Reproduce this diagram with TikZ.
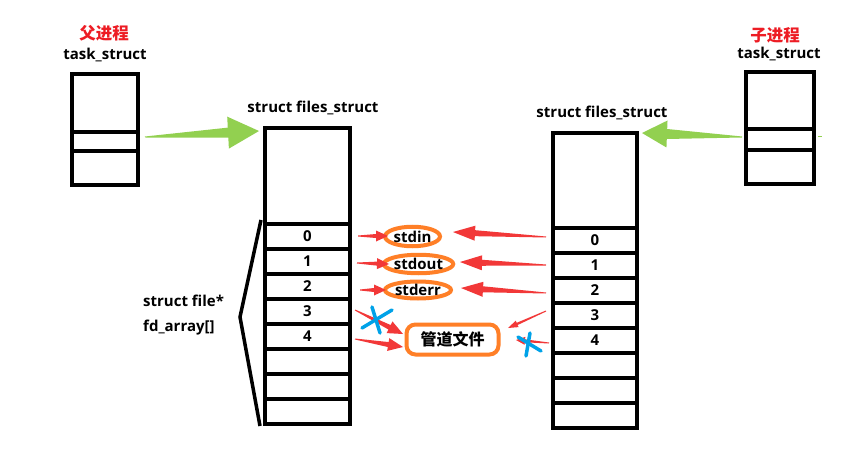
\documentclass[tikz,border=0pt]{standalone}
\usepackage{fontspec}
\setmainfont{Open Sans}
\newfontfamily\cjk{Noto Sans CJK SC}
\usetikzlibrary{calc,shapes.geometric}
\definecolor{agreen}{RGB}{146,208,80}
\definecolor{ared}{RGB}{242,56,56}
\definecolor{aorange}{RGB}{255,127,39}
\definecolor{ablue}{RGB}{0,162,232}
\definecolor{tred}{RGB}{237,28,36}
% #1 tail, #2 tip, #3 head length, #4 head half width, #5 shaft half width, #6 colour
\newcommand{\taparrow}[6]{%
  \path ($(#2)!#3!(#1)$) coordinate (tmpC);
  \fill[#6] ($(#1)!0.5pt!90:(#2)$) -- ($(tmpC)!#5!90:(#2)$) -- ($(tmpC)!#4!90:(#2)$) -- (#2)
    -- ($(tmpC)!#4!-90:(#2)$) -- ($(tmpC)!#5!-90:(#2)$) -- ($(#1)!0.5pt!-90:(#2)$) -- cycle;
}
\tikzset{
  box/.style={draw=black, line width=4pt, fill=white, inner sep=0pt, font=\bfseries\fontsize{15}{17}\selectfont},
  lcell/.style={box, minimum width=85pt, minimum height=25pt},
  rcell/.style={box, minimum width=84pt, minimum height=25pt},
  lbl/.style={font=\bfseries\fontsize{15}{17}\selectfont, inner sep=0pt},
  red lbl/.style={font=\cjk\bfseries\fontsize{16.5}{18}\selectfont, text=tred, inner sep=0pt},
  ell/.style={draw=aorange, line width=4pt, ellipse, inner sep=0pt, font=\bfseries\fontsize{15}{17}\selectfont},
  cross/.style={draw=ablue, line width=3.5pt, line cap=round}
}
\begin{document}
\begin{tikzpicture}[x=1pt,y=-1pt]
\useasboundingbox[fill=white] (0,0) rectangle (850,449);

% green arrows (drawn first, boxes cover them)
\coordinate (g1t) at (145,137);
\coordinate (g1h) at (259,131);
\taparrow{g1t}{g1h}{31pt}{16pt}{5pt}{agreen}
\coordinate (g2t) at (742,137);
\coordinate (g2h) at (642,133);
\taparrow{g2t}{g2h}{25pt}{13.5pt}{5pt}{agreen}
\fill[agreen] (818,136.3) rectangle (822,137.3);

% left task_struct
\node[box, minimum width=66pt, minimum height=58pt] (lt1) at (105,103) {};
\node[box, minimum width=66pt, minimum height=19pt] (lt2) at (105,141.5) {};
\node[box, minimum width=66pt, minimum height=34pt] (lt3) at (105,168) {};
\node[red lbl] (lpar) at (104,33) {父进程};
\node[lbl] (ltn) at (105,55) {task\_struct};

% right task_struct
\node[box, minimum width=68pt, minimum height=57pt] (rt1) at (780,100.5) {};
\node[box, minimum width=68pt, minimum height=21pt] (rt2) at (780,139.5) {};
\node[box, minimum width=68pt, minimum height=34pt] (rt3) at (780,167) {};
\node[red lbl] (rchild) at (775,35) {子进程};
\node[lbl] (rtn) at (779,54) {task\_struct};

% left files_struct
\node[lbl] (lfn) at (313,108) {struct files\_struct};
\node[box, minimum width=85pt, minimum height=96pt] (lf) at (307.5,176) {};
\foreach \i/\t in {0/0,1/1,2/2,3/3,4/4,5/,6/,7/}
  \node[lcell] (lf\i) at (307.5,236.5+25*\i) {\t};

% right files_struct
\node[lbl] (rfn) at (602,113) {struct files\_struct};
\node[box, minimum width=84pt, minimum height=95pt] (rf) at (595,180.5) {};
\foreach \i/\t in {0/0,1/1,2/2,3/3,4/4,5/,6/,7/}
  \node[rcell] (rf\i) at (595,240.5+25*\i) {\t};

% bracket and fd_array label
\coordinate (bmid) at (240,317);
\draw[line width=3.5pt] ([xshift=-2pt,yshift=2pt]lf0.north west) -- (bmid) -- ([xshift=-3pt]lf7.south west);
\node[lbl, anchor=west] (sfile) at (143,301) {struct file*};
\node[lbl, anchor=west] (fdarr) at (143,328) {fd\_array[]};

% std streams
\node[ell, minimum width=55pt, minimum height=19.5pt] (stdin) at (412.5,236.5) {stdin};
\node[ell, minimum width=59pt, minimum height=18.5pt] (stdout) at (418.5,264) {stdout};
\node[ell, minimum width=66pt, minimum height=17pt] (stderr) at (418,290) {stderr};
\node[draw=aorange, line width=4pt, rounded corners=9pt, minimum width=92pt, minimum height=30pt,
      inner sep=0pt, fill=white, font=\cjk\bfseries\fontsize{16}{18}\selectfont] (pipe) at (452.5,339.5) {管道文件};

% red arrows, left side
\coordinate (a0t) at (358,236); \coordinate (a0h) at (388,236);
\taparrow{a0t}{a0h}{12pt}{5.5pt}{2pt}{ared}
\coordinate (a1t) at (357,263); \coordinate (a1h) at (389,264);
\taparrow{a1t}{a1h}{12pt}{5.5pt}{2pt}{ared}
\coordinate (a2t) at (360,290); \coordinate (a2h) at (386,290);
\taparrow{a2t}{a2h}{12pt}{5.5pt}{2pt}{ared}
\coordinate (a3t) at (355,310); \coordinate (a3h) at (403,334);
\taparrow{a3t}{a3h}{15pt}{6.5pt}{2.5pt}{ared}
\coordinate (a4t) at (355,339); \coordinate (a4h) at (403,347);
\taparrow{a4t}{a4h}{15pt}{6.5pt}{2.5pt}{ared}

% red arrows, right side
\coordinate (b0t) at (546,237); \coordinate (b0h) at (453,232);
\taparrow{b0t}{b0h}{22pt}{7.5pt}{3pt}{ared}
\coordinate (b1t) at (546,265); \coordinate (b1h) at (460,262);
\taparrow{b1t}{b1h}{22pt}{7.5pt}{3pt}{ared}
\coordinate (b2t) at (546,293); \coordinate (b2h) at (461,288);
\taparrow{b2t}{b2h}{22pt}{7.5pt}{3pt}{ared}
\coordinate (b3t) at (546,311); \coordinate (b3h) at (508,328);
\taparrow{b3t}{b3h}{10pt}{3.5pt}{1.2pt}{ared}
\coordinate (b4t) at (549,343); \coordinate (b4h) at (516,340);
\taparrow{b4t}{b4h}{9pt}{4pt}{1.5pt}{ared}

% blue crosses
\draw[cross] (372,307) -- (380,333);
\draw[cross] (362,328) -- (392,310);
\draw[cross] (530,333) -- (526,356);
\draw[cross] (518,337) -- (541,351);
\end{tikzpicture}
\end{document}
